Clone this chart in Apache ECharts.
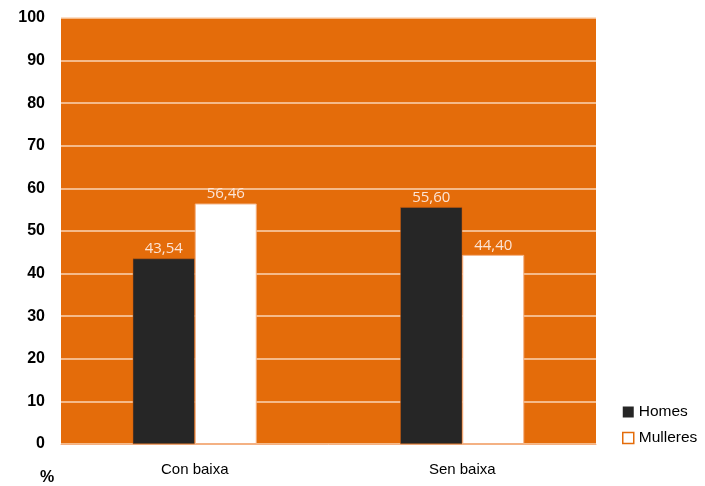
<!DOCTYPE html>
<html><head><meta charset="utf-8">
<script src="https://cdn.jsdelivr.net/npm/echarts@6/dist/echarts.min.js"></script>
<style>html,body{margin:0;padding:0;background:#fff}#c{width:705px;height:486px}</style>
</head><body><div id="c"></div>
<script>
const categories = ['Con baixa', 'Sen baixa'];
const homes = [43.54, 55.60];
const mulleres = [56.46, 44.40];
const seriesNames = ['Homes', 'Mulleres'];

const chart = echarts.init(document.getElementById('c'));
const fmt = p => p.value.toFixed(2).replace('.', ',');
const labelStyle = {show: true, position: 'top', color: '#FCE4D6', fontSize: 15, fontFamily: 'Open Sans', formatter: fmt, distance: 2};
chart.setOption({
  animation: false,
  grid: {left: 61, right: 109, top: 18, bottom: 42, backgroundColor: '#E46C0A', show: true, borderWidth: 0},
  legend: {
    orient: 'vertical', left: 622, top: 404, padding: 0, itemWidth: 11, itemHeight: 11, itemGap: 10,
    textStyle: {fontSize: 15.5, color: '#000', fontFamily: 'Liberation Sans'},
    data: [
      {name: 'Homes', icon: 'rect', itemStyle: {color: '#262626', borderWidth: 0}},
      {name: 'Mulleres', icon: 'rect', itemStyle: {color: '#fff', borderColor: '#E46C0A', borderWidth: 1.5}}
    ]
  },
  xAxis: {
    type: 'category', data: categories,
    axisLine: {show: true, lineStyle: {color: '#F4B183', width: 1}},
    axisTick: {show: false},
    axisLabel: {color: '#000', fontSize: 15, fontFamily: 'Liberation Sans', margin: 18}
  },
  yAxis: {
    type: 'value', min: 0, max: 100, interval: 10, name: '%', nameLocation: 'start',
    nameGap: 26, nameTextStyle: {color: '#000', fontWeight: 'bold', fontSize: 16, fontFamily: 'Liberation Sans', align: 'center', padding: [0, 0, 0, -28]},
    axisLine: {show: false}, axisTick: {show: false},
    axisLabel: {color: '#000', fontWeight: 'bold', fontSize: 16, fontFamily: 'Liberation Sans', margin: 16},
    splitLine: {lineStyle: {color: '#FBD5B5', width: 1.5}}
  },
  series: [
    {name: seriesNames[0], type: 'bar', data: homes, barWidth: 62, barGap: '0%',
     itemStyle: {color: '#262626', borderColor: '#C55A11', borderWidth: 0.5}, label: labelStyle},
    {name: seriesNames[1], type: 'bar', data: mulleres, barWidth: 62,
     itemStyle: {color: '#fff', borderColor: '#F4B183', borderWidth: 1}, label: labelStyle}
  ]
});
</script></body></html>
